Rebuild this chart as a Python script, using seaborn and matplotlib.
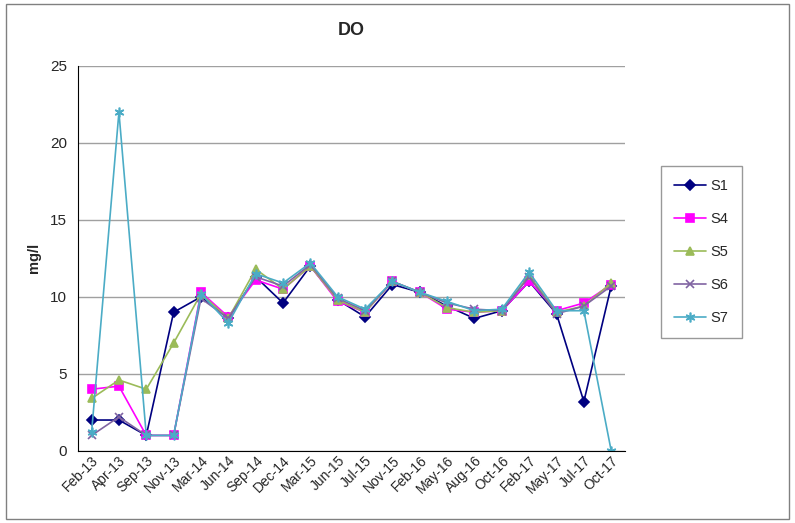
import pandas as pd
import matplotlib
matplotlib.use('Agg')
import matplotlib.pyplot as plt
import seaborn as sns
from matplotlib.patches import Rectangle

# dates of sampling
dates = ['Feb-13', 'Apr-13', 'Sep-13', 'Nov-13', 'Mar-14', 'Jun-14', 'Sep-14', 'Dec-14',
         'Mar-15', 'Jun-15', 'Jul-15', 'Nov-15', 'Feb-16', 'May-16', 'Aug-16', 'Oct-16',
         'Feb-17', 'May-17', 'Jul-17', 'Oct-17']

s1 = [2, 2, 1, 9, 10, 8.6, 11.3, 9.6, 12, 9.8, 8.7, 10.8, 10.3, 9.4, 8.6, 9.1, 11, 8.9, 3.2, 10.7]
s4 = [4, 4.2, 1, 1, 10.3, 8.7, 11.1, 10.5, 12, 9.7, 9, 11, 10.3, 9.2, 9, 9.1, 11, 9.1, 9.6, 10.8]
s5 = [3.4, 4.6, 4, 7, 10.2, 8.6, 11.8, 10.5, 12, 9.8, 9, 11, 10.3, 9.3, 9, 9.1, 11.4, 9.0, 9.4, 10.9]
s6 = [1, 2.2, 1, 1, 9.9, 8.6, 11.3, 10.7, 12.1, 9.9, 9.1, 11, 10.3, 9.6, 9.2, 9.1, 11.3, 8.9, 9.4, 10.7]
s7 = [1.2, 22, 1, 1, 10.2, 8.3, 11.5, 10.9, 12.2, 10, 9.2, 11, 10.3, 9.7, 9.1, 9.2, 11.6, 9.1, 9.1, 0]

series = {'S1': s1, 'S4': s4, 'S5': s5, 'S6': s6, 'S7': s7}
colors = {'S1': '#000080', 'S4': '#FF00FF', 'S5': '#9BBB59', 'S6': '#8064A2', 'S7': '#4BACC6'}
markers = {'S1': 'D', 'S4': 's', 'S5': '^', 'S6': 'x', 'S7': (6, 2, 0)}
msizes = {'S1': 5, 'S4': 6, 'S5': 6, 'S6': 6, 'S7': 7}

rows = []
for name, vals in series.items():
    for i, v in enumerate(vals):
        rows.append({'pos': i, 'date': dates[i], 'DO': v, 'site': name})
df = pd.DataFrame(rows)

sns.set_style('white')
plt.rcParams['font.family'] = ['Liberation Sans', 'DejaVu Sans']

fig = plt.figure(figsize=(7.95, 5.23), dpi=100)
ax = fig.add_axes([0.098, 0.138, 0.688, 0.736])

for name in series:
    sns.lineplot(data=df[df['site'] == name], x='pos', y='DO', ax=ax,
                 color=colors[name], marker=markers[name], markersize=msizes[name],
                 markeredgecolor=colors[name], markeredgewidth=1.2,
                 linewidth=1.2, label=name, sort=False)

ax.set_xlim(-0.5, len(dates) - 0.5)
ax.set_ylim(0, 25)
ax.set_yticks([0, 5, 10, 15, 20, 25])
ax.set_xticks(range(len(dates)))
ax.set_xticklabels(dates, rotation=45, ha='right', rotation_mode='anchor', fontsize=10)
ax.tick_params(axis='y', labelsize=11, length=0, pad=8)
ax.tick_params(axis='x', length=0, pad=2)
ax.yaxis.grid(True, color='#A0A0A0', linewidth=1)
ax.set_axisbelow(True)
for side in ['top', 'right']:
    ax.spines[side].set_visible(False)
ax.spines['left'].set_color('black')
ax.spines['bottom'].set_color('black')
ax.set_xlabel('')
ax.set_ylabel('mg/l', fontsize=10.5, fontweight='bold', labelpad=6)
ax.set_title('DO', fontsize=13, fontweight='bold', pad=22)

leg = ax.legend(loc='center left', bbox_to_anchor=(1.066, 0.517), frameon=True,
                fancybox=False, edgecolor='#808080', fontsize=10.5, borderaxespad=0,
                labelspacing=1.3, handlelength=2.2, borderpad=0.9, handletextpad=0.3)
leg.get_frame().set_linewidth(1)

fig.patches.append(Rectangle((0.008, 0.008), 0.984, 0.984, transform=fig.transFigure,
                             fill=False, edgecolor='#808080', linewidth=1))

fig.savefig('out.png', dpi=100)
